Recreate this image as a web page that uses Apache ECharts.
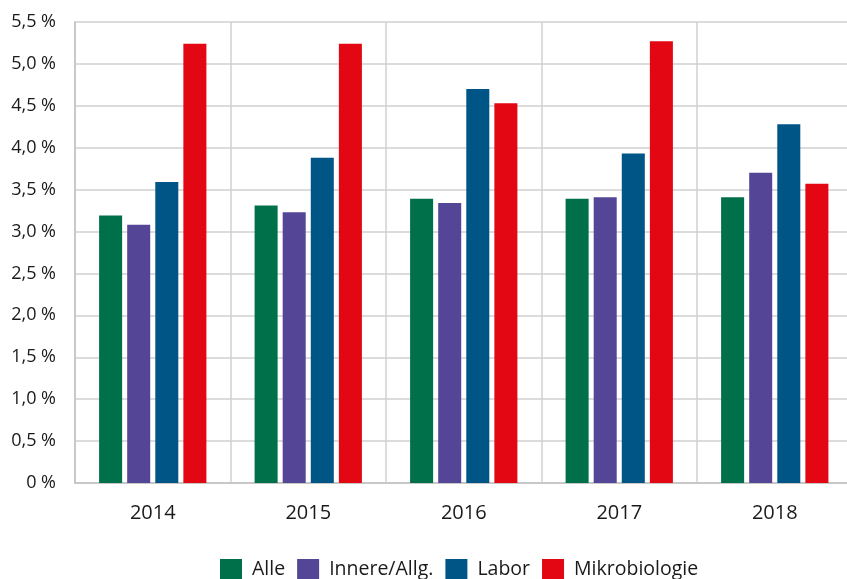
<!DOCTYPE html>
<html>
<head>
<meta charset="utf-8">
<script src="https://cdn.jsdelivr.net/npm/echarts@6/dist/echarts.min.js"></script>
<style>
  html, body { margin: 0; padding: 0; background: #fff; overflow: hidden; }
  /* etwas breiter als das Fenster: rechter Rand des Plots liegt außerhalb */
  #chart { width: 860px; height: 579px; }
</style>
</head>
<body>
<div id="chart"></div>
<script>
// Jahre
const years = ["2014", "2015", "2016", "2017", "2018"];
// Werte in %
const alle = [3.19, 3.31, 3.39, 3.39, 3.41];
const innere = [3.08, 3.23, 3.34, 3.41, 3.70];
const labor = [3.59, 3.88, 4.70, 3.93, 4.28];
const mikro = [5.24, 5.24, 4.53, 5.27, 3.57];
const seriesNames = ["Alle", "Innere/Allg.", "Labor", "Mikrobiologie"];
const colors = ["#00704a", "#554596", "#005587", "#e30613"];

const font = "'Open Sans', 'Noto Sans', sans-serif";

function fmtPct(v) {
  if (v === 0) return "0 %";
  return v.toFixed(1).replace(".", ",") + " %";
}

const chart = echarts.init(document.getElementById("chart"));
const barSeries = [alle, innere, labor, mikro].map((data, i) => ({
  name: seriesNames[i],
  type: "bar",
  data: data,
  barGap: "22%",
  barCategoryGap: "31%",
  itemStyle: { color: colors[i] },
}));

chart.setOption({
  animation: false,
  color: colors,
  grid: { left: 75, right: 7.5, top: 22, bottom: 96 },
  legend: {
    top: 554,
    left: 215,
    itemWidth: 22,
    itemHeight: 21,
    itemGap: 12,
    icon: "rect",
    textStyle: { fontFamily: font, fontSize: 19.5, color: "#1a1a1a", padding: [0, 0, 0, 5] },
    data: seriesNames,
  },
  xAxis: {
    type: "category",
    data: years,
    axisLine: { lineStyle: { color: "#c8c8c8", width: 2 } },
    axisTick: { show: false },
    axisLabel: { fontFamily: font, fontSize: 20, color: "#1a1a1a", margin: 20 },
    splitLine: { show: true, interval: 0, lineStyle: { color: "#d0d0d0", width: 1.5 } },
  },
  yAxis: {
    type: "value",
    min: 0,
    max: 5.5,
    interval: 0.5,
    axisLine: { show: true, lineStyle: { color: "#c8c8c8", width: 2 } },
    axisTick: { show: false },
    axisLabel: {
      fontFamily: font, fontSize: 18, color: "#1a1a1a", margin: 19,
      formatter: fmtPct,
    },
    splitLine: { lineStyle: { color: "#d0d0d0", width: 1.5 } },
  },
  series: barSeries,
});
</script>
</body>
</html>
